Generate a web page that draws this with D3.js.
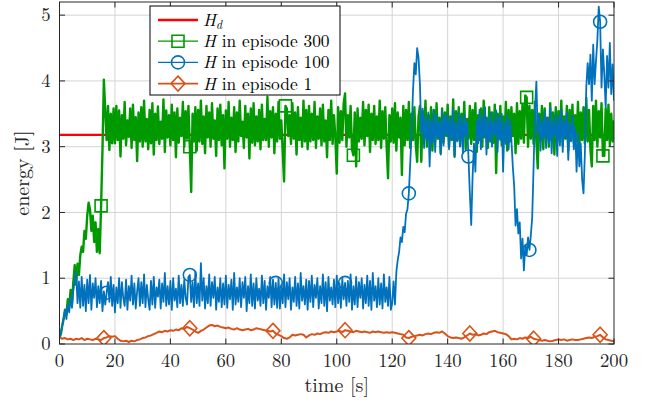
<!DOCTYPE html>
<html>
<head>
<meta charset="utf-8">
<script src="https://cdn.jsdelivr.net/npm/d3@7"></script>
<style>
body { margin: 0; background: #fff; }
</style>
</head>
<body>
<svg width="655" height="400"></svg>
<script>
// sample steps of the recorded traces [s]
var dt = 0.5, dtSlow = 1;

var Hd = 3.18;
var xTicks = [0, 20, 40, 60, 80, 100, 120, 140, 160, 180, 200];
var yTicks = [0, 1, 2, 3, 4, 5];

// H in episode 300, one value every 0.5 s
var H300 = [
  0.10,0.15,0.28,0.38,0.52,0.45,0.68,0.58,0.82,0.62,0.95,1.20,0.90,1.22,1.05,1.35,1.48,1.40,1.72,1.60,
  1.95,2.15,2.05,1.72,1.95,1.55,1.85,1.40,1.75,1.38,2.10,2.95,4.02,3.55,3.10,3.62,2.95,3.50,3.05,3.58,
  3.05,3.62,3.10,3.55,2.85,3.48,3.12,3.68,3.02,3.40,3.15,3.58,2.98,3.64,3.10,3.45,2.78,3.52,3.08,3.60,
  3.00,3.70,3.08,3.42,2.96,3.56,3.05,3.66,2.88,3.50,3.10,3.61,3.04,3.38,3.12,3.72,2.92,3.55,3.14,3.48,
  3.02,3.64,3.10,3.52,2.84,3.58,3.06,3.44,3.16,3.68,3.00,3.54,3.12,3.62,3.00,2.31,3.50,3.08,3.60,2.94,
  3.56,3.08,3.70,3.04,3.46,2.90,3.62,3.14,3.52,3.00,3.66,3.12,3.40,2.86,3.58,3.10,3.64,3.02,3.48,2.67,
  3.55,3.12,3.68,3.00,3.44,3.10,3.60,2.92,3.52,3.08,3.70,3.16,3.38,2.98,3.62,3.14,3.50,2.82,3.58,3.06,
  3.66,3.02,3.46,3.08,3.56,2.96,3.64,3.10,3.42,3.10,3.76,3.00,3.54,3.14,3.60,2.90,3.50,3.08,3.68,3.12,
  3.40,2.94,2.47,3.62,3.58,3.16,3.48,3.04,3.66,3.12,3.52,2.88,3.60,3.10,3.44,3.00,3.70,3.08,3.56,2.96,
  3.62,3.08,3.50,3.10,3.68,2.98,3.46,3.12,3.58,3.02,3.64,3.08,3.40,2.84,3.56,3.10,3.70,3.04,3.48,3.14,
  2.59,3.60,3.06,3.54,3.10,3.66,3.81,3.00,3.48,3.14,3.62,2.96,2.87,3.52,2.70,3.58,3.08,3.44,3.12,3.68,
  3.02,3.56,3.16,3.64,2.92,3.50,3.10,3.62,3.04,3.46,3.10,3.70,2.98,3.54,3.12,3.60,3.00,2.52,3.48,3.08,
  3.58,3.06,3.66,2.94,3.52,3.14,3.44,2.57,3.62,3.02,3.56,3.10,3.68,2.98,3.50,3.10,3.60,3.04,2.77,3.46,
  3.62,2.77,3.54,3.12,3.70,3.00,3.48,3.08,3.60,2.94,3.56,3.08,3.66,3.12,3.44,2.90,3.58,3.06,3.52,3.16,
  3.64,3.00,3.46,3.10,3.72,2.86,3.54,3.10,3.60,3.02,3.50,3.16,3.68,2.96,3.42,3.12,3.62,3.04,3.56,3.10,
  3.66,2.92,3.48,3.10,3.58,3.00,3.70,3.14,3.44,2.98,3.60,3.08,3.52,3.06,3.64,2.60,3.50,3.12,3.62,3.02,
  3.46,3.10,3.68,2.94,3.56,3.08,3.60,3.16,3.50,2.90,3.66,3.04,3.54,3.12,3.64,3.06,3.78,3.75,3.00,3.62,
  3.12,3.56,3.04,3.68,3.08,2.67,3.50,3.10,3.62,2.96,3.58,3.14,3.44,3.00,3.66,3.10,3.52,2.88,3.60,3.08,
  3.54,3.16,3.70,3.02,3.46,3.12,3.62,2.94,3.56,3.10,3.64,3.06,3.48,3.08,3.68,2.98,3.52,3.10,3.60,3.04,
  3.74,3.08,3.56,2.96,2.70,3.62,3.10,3.70,3.00,3.54,3.14,3.66,2.86,2.86,3.58,3.10,3.64,3.02,3.50,3.08,
  3.40
];

// H in episode 100, one value every 0.5 s
var H100 = [
  0.10,0.18,0.28,0.40,0.52,0.38,0.60,0.48,0.72,0.55,0.82,0.98,1.10,0.62,0.95,0.55,1.02,0.58,0.90,0.50,
  0.98,0.62,1.05,0.52,0.92,0.70,1.00,0.56,0.88,0.62,0.96,0.50,0.80,0.60,0.78,0.94,0.64,1.02,0.58,0.90,
  0.48,0.86,0.62,1.00,0.55,0.94,0.70,0.58,0.98,0.52,0.88,0.66,1.04,0.60,0.92,0.54,0.80,1.00,0.58,0.94,
  0.62,1.06,0.56,0.90,0.68,0.52,0.96,0.60,1.02,0.55,0.86,0.72,0.98,0.54,0.92,0.64,1.08,0.58,0.88,0.60,
  0.96,0.52,1.00,0.66,0.84,0.56,1.04,0.62,0.90,0.58,0.98,0.70,0.60,1.02,1.05,0.64,0.94,0.56,1.10,0.62,
  0.92,0.58,1.23,0.66,1.00,0.54,0.88,0.62,1.06,0.58,0.94,0.70,1.02,0.52,0.86,0.64,1.00,0.56,0.92,0.60,
  1.04,0.55,0.90,0.68,0.98,0.52,1.08,0.60,0.86,0.64,1.00,0.56,0.94,0.70,1.02,0.50,0.88,0.62,1.06,0.58,
  0.92,0.54,1.00,0.66,0.84,0.58,1.04,0.62,0.96,0.52,0.88,0.70,1.02,0.56,0.98,0.60,0.93,0.55,1.00,0.54,
  0.90,0.62,1.06,0.56,0.94,0.68,1.00,0.52,0.86,0.64,1.02,0.58,0.92,0.54,1.08,0.66,0.88,0.60,0.98,0.52,
  0.96,0.64,1.04,0.56,0.90,0.70,1.00,0.54,0.88,0.62,1.06,0.58,0.94,0.50,1.02,0.66,0.86,0.60,0.98,0.56,
  1.04,0.62,0.92,0.55,1.00,0.68,0.93,0.58,0.96,0.64,1.06,0.52,0.88,0.60,1.02,0.56,0.94,0.70,1.00,0.54,
  0.90,0.62,1.04,0.58,0.96,0.52,1.08,0.66,0.88,0.56,1.00,0.60,0.92,0.54,1.06,0.64,0.86,0.58,1.02,0.52,
  0.62,0.95,0.60,1.10,1.28,1.40,1.62,1.55,1.78,1.70,1.98,2.05,2.29,2.75,3.20,3.85,4.27,4.10,4.50,4.35,
  3.95,3.20,3.58,2.98,3.44,3.10,3.52,2.70,3.40,3.06,3.56,2.92,3.48,3.14,3.38,2.88,3.54,3.02,3.46,3.18,
  3.50,2.96,3.42,3.12,3.58,2.84,3.36,3.08,3.52,3.00,3.44,2.90,3.50,3.16,3.38,2.85,2.30,1.81,2.55,3.05,
  2.62,3.40,3.05,3.56,2.96,3.46,3.14,3.60,2.88,3.42,3.08,3.52,3.00,3.38,3.18,3.55,2.92,3.44,3.10,3.50,
  2.62,3.36,3.04,3.48,2.96,3.40,3.10,2.70,2.40,1.80,2.05,1.68,1.85,1.30,1.60,1.12,1.50,1.35,1.62,1.43,
  1.65,1.93,2.70,3.56,3.99,3.20,3.48,2.94,3.40,3.12,3.54,2.98,3.44,3.06,3.60,2.90,3.38,3.16,3.50,2.86,
  3.46,3.02,3.56,2.92,3.40,3.14,3.52,2.80,3.36,3.08,3.48,2.96,3.30,2.62,3.20,2.70,3.05,2.50,2.29,2.90,
  3.90,4.27,3.95,4.40,3.70,4.55,3.95,4.30,4.62,5.13,4.90,3.90,4.48,4.10,3.60,4.38,3.90,4.58,3.80,4.25,
  3.70
];

// H in episode 1, one value every 1 s
var H1 = [
  0.10,0.08,0.09,0.07,0.08,0.06,0.08,0.07,0.09,0.06,
  0.08,0.07,0.06,0.08,0.07,0.06,0.09,0.10,0.12,0.11,
  0.12,0.08,0.05,0.04,0.05,0.03,0.05,0.04,0.06,0.07,
  0.09,0.10,0.12,0.13,0.15,0.17,0.19,0.18,0.20,0.19,
  0.21,0.20,0.22,0.21,0.24,0.23,0.26,0.24,0.22,0.19,
  0.17,0.20,0.22,0.25,0.28,0.29,0.27,0.28,0.26,0.25,
  0.24,0.25,0.23,0.22,0.24,0.22,0.21,0.22,0.23,0.21,
  0.22,0.24,0.23,0.22,0.21,0.20,0.19,0.20,0.16,0.14,
  0.12,0.09,0.08,0.10,0.14,0.13,0.14,0.15,0.14,0.10,
  0.13,0.15,0.14,0.16,0.15,0.17,0.18,0.17,0.19,0.18,
  0.19,0.20,0.18,0.21,0.20,0.19,0.18,0.20,0.19,0.18,
  0.19,0.18,0.17,0.19,0.18,0.19,0.18,0.17,0.18,0.17,
  0.18,0.17,0.16,0.15,0.14,0.10,0.09,0.11,0.12,0.13,
  0.14,0.13,0.15,0.16,0.15,0.17,0.18,0.17,0.19,0.16,
  0.12,0.10,0.09,0.10,0.09,0.08,0.10,0.13,0.16,0.14,
  0.15,0.13,0.14,0.16,0.15,0.18,0.19,0.20,0.18,0.17,
  0.16,0.15,0.12,0.07,0.08,0.07,0.09,0.08,0.10,0.09,
  0.11,0.08,0.07,0.06,0.05,0.06,0.05,0.04,0.05,0.06,
  0.07,0.06,0.07,0.05,0.06,0.07,0.06,0.06,0.07,0.08,
  0.09,0.10,0.09,0.11,0.12,0.14,0.10,0.07,0.06,0.05,
  0.04
];

// times where markers sit on each trace [s]
var H300marks = [15, 47, 81.5, 106, 168.5, 196];
var H100marks = [17, 47, 78, 103, 126, 147.5, 169.5, 195];
var H1marks = [16, 47, 77, 103, 126, 148, 171, 195];

var font = "'Latin Modern Roman', 'Liberation Serif', serif";

var svg = d3.select("svg"),
    margin = {top: 2, right: 41, bottom: 56, left: 59.5},
    width = +svg.attr("width") - margin.left - margin.right,
    height = +svg.attr("height") - margin.top - margin.bottom,
    g = svg.append("g").attr("transform", "translate(" + margin.left + "," + margin.top + ")");

var x = d3.scaleLinear().domain([0, 200]).range([0, width]),
    y = d3.scaleLinear().domain([0, 5.2]).range([height, 0]);

var axisColor = "#262626";

// grid
g.append("g").selectAll("line").data(xTicks.slice(1, -1)).enter().append("line")
    .attr("x1", function(d) { return x(d); }).attr("x2", function(d) { return x(d); })
    .attr("y1", 0).attr("y2", height)
    .attr("stroke", "#d4d4d4").attr("stroke-width", 1);
g.append("g").selectAll("line").data(yTicks.slice(1)).enter().append("line")
    .attr("y1", function(d) { return y(d); }).attr("y2", function(d) { return y(d); })
    .attr("x1", 0).attr("x2", width)
    .attr("stroke", "#d4d4d4").attr("stroke-width", 1);

svg.append("defs").append("clipPath").attr("id", "clip")
  .append("rect").attr("width", width).attr("height", height);

var plot = g.append("g").attr("clip-path", "url(#clip)");

var line = d3.line()
    .x(function(d) { return x(d[0]); })
    .y(function(d) { return y(d[1]); });

function toPoints(arr, step) {
    return arr.map(function(v, i) { return [i * step, v]; });
}

function markerPath(kind, cx, cy) {
    if (kind == "square") return "M" + (cx - 6) + "," + (cy - 6) + "h12v12h-12z";
    if (kind == "diamond") return "M" + cx + "," + (cy - 7.5) + "l7,7.5l-7,7.5l-7,-7.5z";
    return "M" + (cx - 6.5) + "," + cy + "a6.5,6.5 0 1,0 13,0a6.5,6.5 0 1,0 -13,0z";
}

// reference energy
plot.append("path")
    .datum([[0, Hd], [200, Hd]])
    .attr("d", line)
    .attr("fill", "none")
    .attr("stroke", "#ff0000")
    .attr("stroke-width", 2.2);

var series = [
    {data: H300, step: dt, color: "#009900", width: 2.4, marks: H300marks, kind: "square"},
    {data: H100, step: dt, color: "#0072bd", width: 1.8, marks: H100marks, kind: "circle"},
    {data: H1, step: dtSlow, color: "#d95319", width: 2, marks: H1marks, kind: "diamond"}
];

series.forEach(function(s) {
    plot.append("path")
        .datum(toPoints(s.data, s.step))
        .attr("d", line)
        .attr("fill", "none")
        .attr("stroke", s.color)
        .attr("stroke-width", s.width)
        .attr("stroke-linejoin", "round");

    plot.selectAll(null).data(s.marks).enter().append("path")
        .attr("d", function(t) {
            var v = s.data[Math.round(t / s.step)];
            return markerPath(s.kind, x(t), y(v));
        })
        .attr("fill", "none")
        .attr("stroke", s.color)
        .attr("stroke-width", 1.6);
});

// axes box and inward ticks on all sides
g.append("rect")
    .attr("width", width).attr("height", height)
    .attr("fill", "none").attr("stroke", axisColor).attr("stroke-width", 1);

var tickLen = 5.5;
xTicks.forEach(function(d) {
    g.append("line").attr("x1", x(d)).attr("x2", x(d)).attr("y1", height).attr("y2", height - tickLen).attr("stroke", axisColor);
    g.append("line").attr("x1", x(d)).attr("x2", x(d)).attr("y1", 0).attr("y2", tickLen).attr("stroke", axisColor);
    g.append("text").attr("x", x(d)).attr("y", height + 23)
        .attr("text-anchor", "middle").attr("fill", axisColor)
        .style("font-family", font).style("font-size", "18.7px").text(d);
});
yTicks.forEach(function(d) {
    g.append("line").attr("y1", y(d)).attr("y2", y(d)).attr("x1", 0).attr("x2", tickLen).attr("stroke", axisColor);
    g.append("line").attr("y1", y(d)).attr("y2", y(d)).attr("x1", width).attr("x2", width - tickLen).attr("stroke", axisColor);
    g.append("text").attr("x", -9).attr("y", y(d)).attr("dy", "0.33em")
        .attr("text-anchor", "end").attr("fill", axisColor)
        .style("font-family", font).style("font-size", "18.7px").text(d);
});

g.append("text")
    .attr("x", width / 2).attr("y", height + 48)
    .attr("text-anchor", "middle").attr("fill", axisColor)
    .style("font-family", font).style("font-size", "20px")
    .text("time [s]");

g.append("text")
    .attr("transform", "rotate(-90)")
    .attr("x", -height / 2).attr("y", -31)
    .attr("text-anchor", "middle").attr("fill", axisColor)
    .style("font-family", font).style("font-size", "20px")
    .text("energy [J]");

// legend
var legend = svg.append("g").attr("transform", "translate(150,6)");
legend.append("rect")
    .attr("width", 190).attr("height", 89)
    .attr("fill", "#fff").attr("stroke", "#000").attr("stroke-width", 1);

var entries = [
    {color: "#ff0000", width: 2.4, kind: null, label: "d"},
    {color: "#009900", width: 1.3, kind: "square", label: " in episode 300"},
    {color: "#0072bd", width: 1.3, kind: "circle", label: " in episode 100"},
    {color: "#d95319", width: 1.6, kind: "diamond", label: " in episode 1"}
];

entries.forEach(function(e, i) {
    var cy = 14 + i * 21.2;
    legend.append("line")
        .attr("x1", 8).attr("x2", 48).attr("y1", cy).attr("y2", cy)
        .attr("stroke", e.color).attr("stroke-width", e.width);
    if (e.kind) {
        legend.append("path")
            .attr("d", markerPath(e.kind, 28, cy))
            .attr("fill", "none").attr("stroke", e.color).attr("stroke-width", 1.6);
    }
    var t = legend.append("text").attr("x", 53).attr("y", cy + 6)
        .attr("fill", "#000")
        .style("font-family", font).style("font-size", "17.4px");
    t.append("tspan").style("font-style", "italic").text("H");
    if (i == 0) {
        t.append("tspan").style("font-style", "italic").style("font-size", "12px")
            .attr("dy", 3).text(e.label);
    } else {
        t.append("tspan").text(e.label);
    }
});
</script>
</body>
</html>
